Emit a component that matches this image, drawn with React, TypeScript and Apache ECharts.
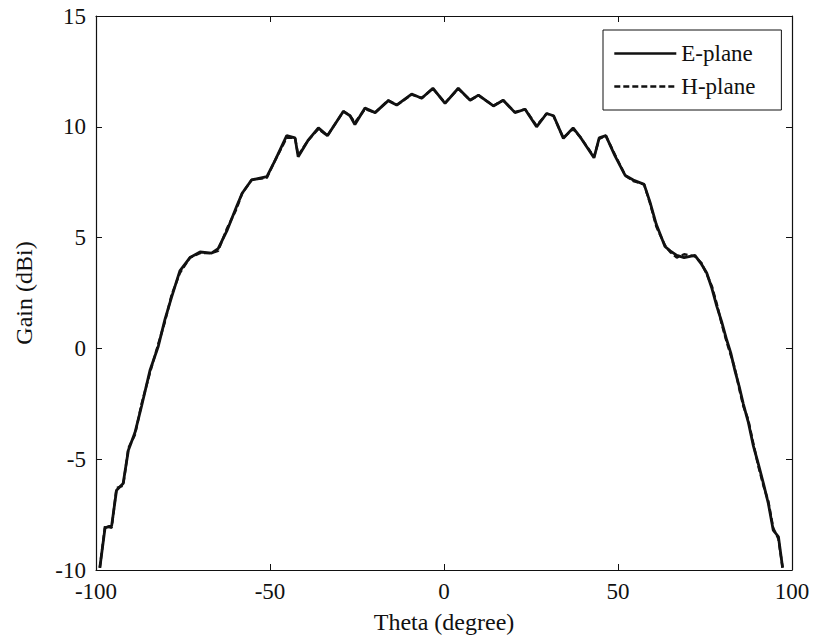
import React, { useEffect, useRef } from "react";
import * as echarts from "echarts";

const theta = [
  -98.9, -97.4, -95.5, -94.1, -92.2, -90.7, -88.8, -86.9, -84.5, -82.1,
  -80.2, -78.3, -75.9, -73.0, -70.1, -66.8, -64.9, -62.4, -59.6, -58.0,
  -55.3, -50.9, -48.5, -45.2, -42.8, -41.9, -39.0, -36.1, -33.5, -28.9,
  -27.0, -25.6, -22.7, -19.8, -16.0, -13.6, -9.3, -6.4, -3.2, 0.3,
  4.1, 7.5, 9.9, 14.2, 17.0, 20.4, 23.3, 26.6, 29.5, 31.5,
  34.3, 37.1, 39.1, 43.1, 44.6, 46.5, 49.1, 52.1, 54.4, 57.5,
  59.2, 61.0, 63.5, 65.0, 66.9, 69.0, 72.1, 74.0, 75.5, 77.0,
  78.4, 79.8, 81.2, 82.4, 83.6, 84.8, 86.0, 87.4, 88.9, 90.3,
  91.8, 93.2, 94.6, 96.1, 97.3,
];

const gainE = [
  -9.9, -8.1, -8.0, -6.4, -6.1, -4.6, -3.8, -2.6, -1.0, 0.1,
  1.3, 2.3, 3.5, 4.1, 4.35, 4.3, 4.5, 5.3, 6.4, 7.0,
  7.6, 7.75, 8.5, 9.6, 9.5, 8.65, 9.4, 9.95, 9.6, 10.7,
  10.5, 10.1, 10.85, 10.64, 11.18, 10.98, 11.48, 11.29, 11.74, 11.06,
  11.74, 11.2, 11.43, 10.94, 11.2, 10.64, 10.79, 10.0, 10.6, 10.5,
  9.48, 9.95, 9.55, 8.6, 9.5, 9.6, 8.7, 7.8, 7.6, 7.4,
  6.6, 5.6, 4.6, 4.4, 4.2, 4.1, 4.2, 3.8, 3.4, 2.7,
  1.9, 1.2, 0.4, -0.2, -1.0, -1.7, -2.5, -3.3, -4.4, -5.2,
  -6.1, -7.0, -8.2, -8.5, -9.9,
];

const gainH = [
  -9.9, -8.0, -8.1, -6.3, -6.2, -4.5, -3.9, -2.5, -1.1, 0.2,
  1.2, 2.4, 3.4, 4.1, 4.3, 4.3, 4.4, 5.4, 6.3, 7.0,
  7.6, 7.7, 8.5, 9.5, 9.5, 8.7, 9.4, 9.9, 9.6, 10.7,
  10.5, 10.2, 10.8, 10.64, 11.2, 10.98, 11.45, 11.3, 11.72, 11.08,
  11.72, 11.2, 11.42, 10.95, 11.2, 10.66, 10.8, 10.05, 10.6, 10.48,
  9.5, 9.9, 9.55, 8.65, 9.45, 9.6, 8.75, 7.8, 7.55, 7.4,
  6.55, 5.5, 4.65, 4.35, 4.1, 4.25, 4.15, 3.85, 3.35, 2.8,
  2.0, 1.1, 0.3, -0.3, -0.9, -1.8, -2.6, -3.2, -4.3, -5.3,
  -6.2, -6.9, -8.1, -8.6, -9.9,
];

const xTicks = { min: -100, max: 100, interval: 50 };
const yTicks = { min: -10, max: 15, interval: 5 };

const FONT = "Liberation Serif";

export default function App() {
  const ref = useRef<HTMLDivElement>(null);
  useEffect(() => {
    if (!ref.current) return;
    const chart = echarts.init(ref.current, undefined, { renderer: "svg" });
    const axisLine = { show: true, onZero: false, lineStyle: { color: "#111", width: 1.2 } };
    const tick = { show: true, inside: true, length: 6, lineStyle: { color: "#111" } };
    const label = { color: "#111", fontFamily: FONT, fontSize: 23 };
    chart.setOption({
      animation: false,
      backgroundColor: "#fff",
      grid: { left: 96, right: 22, top: 16, bottom: 70 },
      legend: {
        orient: "vertical",
        top: 30,
        left: 603,
        backgroundColor: "#fff",
        borderColor: "#111",
        borderWidth: 1,
        borderRadius: 0,
        padding: [12, 26, 12, 10],
        itemWidth: 62,
        itemHeight: 14,
        itemGap: 10,
        itemStyle: { opacity: 0 },
        lineStyle: { width: 2.6 },
        textStyle: { color: "#111", fontFamily: FONT, fontSize: 23 },
        data: ["E-plane", "H-plane"],
      },
      xAxis: [
        {
          type: "value",
          ...xTicks,
          name: "Theta (degree)",
          nameLocation: "middle",
          nameGap: 40,
          nameTextStyle: { color: "#111", fontFamily: FONT, fontSize: 24 },
          axisLine,
          axisTick: tick,
          axisLabel: { ...label, margin: 10 },
          splitLine: { show: false },
        },
        {
          type: "value",
          position: "top",
          ...xTicks,
          axisLine,
          axisTick: tick,
          axisLabel: { show: false },
          splitLine: { show: false },
        },
      ],
      yAxis: [
        {
          type: "value",
          ...yTicks,
          name: "Gain (dBi)",
          nameLocation: "middle",
          nameGap: 60,
          nameTextStyle: { color: "#111", fontFamily: FONT, fontSize: 24 },
          axisLine,
          axisTick: tick,
          axisLabel: { ...label, margin: 10 },
          splitLine: { show: false },
        },
        {
          type: "value",
          position: "right",
          ...yTicks,
          axisLine,
          axisTick: tick,
          axisLabel: { show: false },
          splitLine: { show: false },
        },
      ],
      series: [
        {
          name: "E-plane",
          type: "line",
          symbol: "none",
          data: theta.map((t, i) => [t, gainE[i]]),
          lineStyle: { color: "#111", width: 2.8, type: "solid" },
          itemStyle: { color: "#111" },
        },
        {
          name: "H-plane",
          type: "line",
          symbol: "none",
          data: theta.map((t, i) => [t, gainH[i]]),
          lineStyle: { color: "#111", width: 2.4, type: [6, 3] },
          itemStyle: { color: "#111" },
        },
      ],
    });
    return () => chart.dispose();
  }, []);
  return (
    <div
      ref={ref}
      style={{ position: "absolute", left: 0, top: 0, width: 814, height: 640 }}
    />
  );
}
